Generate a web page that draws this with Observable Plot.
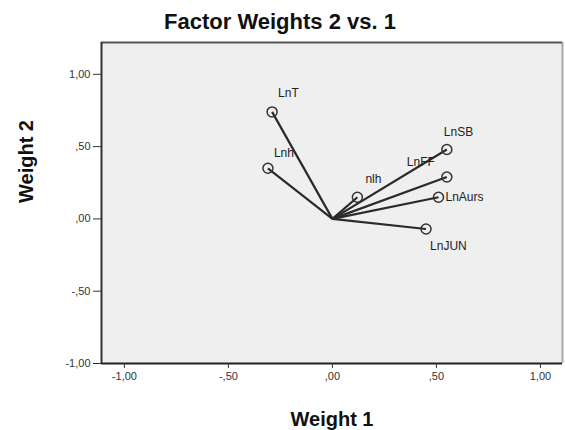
<!DOCTYPE html>
<html><head><meta charset="utf-8">
<script src="https://cdn.jsdelivr.net/npm/d3@7"></script>
<script src="https://cdn.jsdelivr.net/npm/@observablehq/plot@0.6"></script>
<style>
body{margin:0;background:#fff;font-family:"Liberation Sans",Arial,sans-serif;}
#title{box-sizing:border-box;height:34px;width:560px;padding-top:11px;line-height:22px;font-size:22px;font-weight:bold;text-align:center;color:#111;}
#chart svg{display:block;}
</style></head><body>
<div id="title">Factor Weights 2 vs. 1</div>
<div id="chart"></div>
<script>
// Data
const variables = ["LnT", "Lnh", "nlh", "LnFF", "LnSB", "LnAurs", "LnJUN"];
const weight1 = [-0.29, -0.31, 0.12, 0.55, 0.55, 0.51, 0.45];
const weight2 = [0.74, 0.35, 0.15, 0.29, 0.48, 0.15, -0.07];
const xTicks = [-1, -0.5, 0, 0.5, 1];
const yTicks = [-1, -0.5, 0, 0.5, 1];

// Label placement (layout only)
const placement = {
  LnT:   {dx: 6,   dy: -19, anchor: "start"},
  Lnh:   {dx: 6,   dy: -15, anchor: "start"},
  nlh:   {dx: 8,   dy: -18, anchor: "start"},
  LnFF:  {dx: -12, dy: -15, anchor: "end"},
  LnSB:  {dx: -3,  dy: -17, anchor: "start"},
  LnAurs:{dx: 7,   dy: 0,   anchor: "start"},
  LnJUN: {dx: 4,   dy: 17,  anchor: "start"}
};

const rows = variables.map((v, i) => ({name: v, w1: weight1[i], w2: weight2[i]}));
const fmt = d => {
  let s = d3.format(".2f")(d).replace("\u2212", "-").replace(".", ",");
  s = s.replace(/^(-?)0,/, "$1,");
  return s;
};
const xDomain = [-1.11, 1.106];
const yDomain = [-1, 1.22];

const labelMarks = ["start", "end"].flatMap(a =>
  rows.filter(r => placement[r.name].anchor === a).map(r =>
    Plot.text([r], {x: "w1", y: "w2", text: "name", textAnchor: a,
      dx: placement[r.name].dx, dy: placement[r.name].dy,
      fontSize: 12, fill: "#222", lineAnchor: "middle"})
  )
);

const chart = Plot.plot({
  width: 565,
  height: 396,
  marginTop: 8,
  marginBottom: 67,
  marginLeft: 101,
  marginRight: 3,
  style: {fontFamily: "'Liberation Sans', Arial, sans-serif", background: "#fff", color: "#333"},
  x: {domain: xDomain},
  y: {domain: yDomain},
  marks: [
    Plot.frame({fill: "#efefef"}),
    Plot.ruleX([xDomain[1]], {stroke: "#aaa", strokeWidth: 2}),
    Plot.ruleY([yDomain[1]], {stroke: "#555", strokeWidth: 2}),
    Plot.ruleX([xDomain[0]], {stroke: "#333", strokeWidth: 2}),
    Plot.ruleY([yDomain[0]], {stroke: "#222", strokeWidth: 2}),
    Plot.axisX({ticks: xTicks, tickFormat: fmt, tickSize: 5, fontSize: 11, label: null, tickPadding: 4, stroke: "#333"}),
    Plot.axisY({ticks: yTicks, tickFormat: fmt, tickSize: 8, fontSize: 11, label: null, tickPadding: 3, stroke: "#333"}),
    Plot.link(rows, {x1: () => 0, y1: () => 0, x2: "w1", y2: "w2", stroke: "#2a2a2a", strokeWidth: 2.2}),
    Plot.dot(rows, {x: "w1", y: "w2", r: 5, stroke: "#333", strokeWidth: 1.5, fill: "none"}),
    ...labelMarks,
    Plot.text(["Weight 1"], {frameAnchor: "bottom", dy: 56, fontSize: 20, fontWeight: "bold", fill: "#111", lineAnchor: "middle"}),
    Plot.text(["Weight 2"], {frameAnchor: "left", dx: -75, rotate: -90, fontSize: 20, fontWeight: "bold", fill: "#111", lineAnchor: "middle"})
  ]
});
document.getElementById("chart").appendChild(chart);
</script>
</body></html>
